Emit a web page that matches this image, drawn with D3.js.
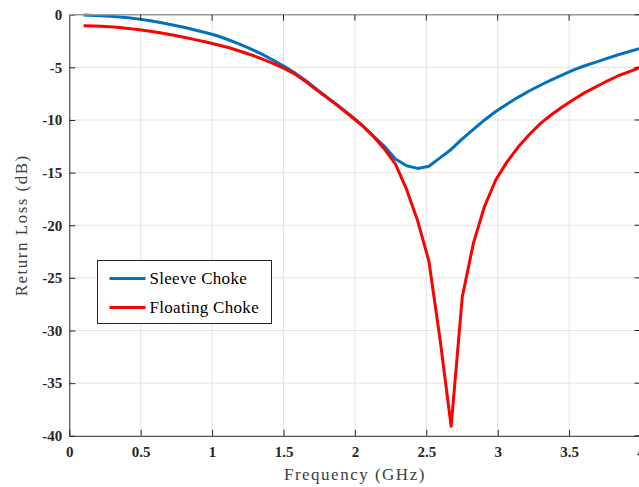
<!DOCTYPE html>
<html>
<head>
<meta charset="utf-8">
<script src="https://cdn.jsdelivr.net/npm/d3@7"></script>
<style>
  body { margin: 0; background: #fff; }
  svg { display: block; font-family: "Times New Roman", "Liberation Serif", serif; }
</style>
</head>
<body>
<div id="chart"></div>
<script>
// frequency samples (GHz)
var freq = [0.1, 0.178, 0.256, 0.334, 0.412, 0.49, 0.568, 0.646, 0.724, 0.802,
            0.88, 0.958, 1.036, 1.114, 1.192, 1.27, 1.348, 1.426, 1.504, 1.582,
            1.66, 1.738, 1.816, 1.894, 1.972, 2.05, 2.128, 2.206, 2.284, 2.362,
            2.44, 2.518, 2.596, 2.674, 2.752, 2.83, 2.908, 2.986, 3.064, 3.142,
            3.22, 3.298, 3.376, 3.454, 3.532, 3.61, 3.688, 3.766, 3.844, 3.922, 4.0];

var sleeve = [-0.03, -0.07, -0.12, -0.19, -0.29, -0.42, -0.58, -0.76, -0.97, -1.2,
              -1.45, -1.72, -2.0, -2.38, -2.8, -3.25, -3.75, -4.3, -4.9, -5.55,
              -6.3, -7.15, -7.95, -8.75, -9.6, -10.5, -11.5, -12.5, -13.7, -14.35,
              -14.6, -14.4, -13.6, -12.8, -11.8, -10.9, -10.0, -9.2, -8.5, -7.85,
              -7.25, -6.7, -6.2, -5.72, -5.25, -4.85, -4.5, -4.15, -3.8, -3.5, -3.2];

var floating = [-1.04, -1.08, -1.13, -1.2, -1.3, -1.43, -1.57, -1.74, -1.93, -2.14,
                -2.37, -2.6, -2.85, -3.12, -3.45, -3.8, -4.2, -4.62, -5.1, -5.65,
                -6.4, -7.2, -8.0, -8.8, -9.65, -10.5, -11.55, -12.75, -14.2, -16.6,
                -19.6, -23.4, -30.8, -39.1, -26.8, -21.7, -18.2, -15.7, -14.0, -12.6,
                -11.4, -10.35, -9.5, -8.75, -8.05, -7.4, -6.85, -6.3, -5.8, -5.4, -5.0];

var series = [
  {name: "Sleeve Choke", color: "#0072BD", values: sleeve},
  {name: "Floating Choke", color: "#FF0000", values: floating}
];

var xTicks = [0, 0.5, 1, 1.5, 2, 2.5, 3, 3.5, 4];
var yTicks = [0, -5, -10, -15, -20, -25, -30, -35, -40];

var W = 639, H = 487;
var margin = {top: 14.7, left: 69.3};
var plotW = 571.2, plotH = 421.1;

var svg = d3.select("#chart").append("svg")
    .attr("width", W)
    .attr("height", H);

var x = d3.scaleLinear().domain([0, 4]).range([margin.left, margin.left + plotW]);
var y = d3.scaleLinear().domain([0, -40]).range([margin.top, margin.top + plotH]);

// grid
var grid = svg.append("g").attr("class", "grid");
grid.selectAll("line.gx")
    .data(xTicks.slice(1, -1))
    .enter().append("line")
    .attr("x1", function(d) { return x(d); })
    .attr("x2", function(d) { return x(d); })
    .attr("y1", y(0))
    .attr("y2", y(-40))
    .attr("stroke", "#e3e3e3")
    .attr("stroke-width", 1);
grid.selectAll("line.gy")
    .data(yTicks.slice(1, -1))
    .enter().append("line")
    .attr("y1", function(d) { return y(d); })
    .attr("y2", function(d) { return y(d); })
    .attr("x1", x(0))
    .attr("x2", x(4))
    .attr("stroke", "#e3e3e3")
    .attr("stroke-width", 1);

// curves
svg.append("clipPath").attr("id", "clip")
  .append("rect")
    .attr("x", x(0)).attr("y", y(0) - 3)
    .attr("width", plotW).attr("height", plotH + 3);

var line = d3.line()
    .x(function(d, i) { return x(freq[i]); })
    .y(function(d) { return y(d); });

svg.append("g")
    .attr("clip-path", "url(#clip)")
  .selectAll("path")
    .data(series)
    .enter().append("path")
    .attr("d", function(d) { return line(d.values); })
    .attr("fill", "none")
    .attr("stroke", function(d) { return d.color; })
    .attr("stroke-width", 3)
    .attr("stroke-linejoin", "round");

// axes (MATLAB style: ticks pointing inward)
var tickLen = 6;
var xAxis = d3.axisBottom(x).tickValues(xTicks).tickSize(-tickLen).tickSizeOuter(0)
    .tickFormat(d3.format("~g"));
var yAxis = d3.axisLeft(y).tickValues(yTicks).tickSize(-tickLen).tickSizeOuter(0)
    .tickFormat(function(d) { return d === 0 ? "0" : String(d); });

var gx = svg.append("g")
    .attr("transform", "translate(0," + y(-40) + ")")
    .call(xAxis);
gx.select(".domain").attr("stroke", "#262626");
gx.selectAll(".tick line").attr("stroke", "#262626");
gx.selectAll(".tick text")
    .attr("y", 11)
    .attr("dy", "0.71em")
    .style("font-family", "'Times New Roman', 'Liberation Serif', serif")
    .style("font-size", "15px")
    .style("font-weight", "bold")
    .attr("fill", "#262626");

var gy = svg.append("g")
    .attr("transform", "translate(" + x(0) + ",0)")
    .call(yAxis);
gy.select(".domain").attr("stroke", "#262626");
gy.selectAll(".tick line").attr("stroke", "#262626");
gy.selectAll(".tick text")
    .attr("x", -7)
    .style("font-family", "'Times New Roman', 'Liberation Serif', serif")
    .style("font-size", "15px")
    .style("font-weight", "bold")
    .attr("fill", "#262626");

// top and right box edges with inward ticks
svg.append("line")
    .attr("x1", x(0)).attr("x2", x(4))
    .attr("y1", y(0)).attr("y2", y(0))
    .attr("stroke", "#9a9a9a").attr("stroke-width", 1.5);
svg.selectAll("line.topTick")
    .data(xTicks.slice(1))
    .enter().append("line")
    .attr("x1", function(d) { return x(d); })
    .attr("x2", function(d) { return x(d); })
    .attr("y1", y(0))
    .attr("y2", y(0) + tickLen)
    .attr("stroke", "#262626");
svg.selectAll("line.rightTick")
    .data(yTicks)
    .enter().append("line")
    .attr("x1", x(4) - tickLen)
    .attr("x2", x(4))
    .attr("y1", function(d) { return y(d); })
    .attr("y2", function(d) { return y(d); })
    .attr("stroke", "#262626");

// axis titles
svg.append("text")
    .attr("x", x(2))
    .attr("y", 480)
    .attr("text-anchor", "middle")
    .style("font-size", "17px")
    .style("letter-spacing", "1.5px")
    .attr("fill", "#404040")
    .text("Frequency (GHz)");

svg.append("text")
    .attr("transform", "translate(27," + y(-20) + ") rotate(-90)")
    .attr("text-anchor", "middle")
    .style("font-size", "17px")
    .style("letter-spacing", "1.5px")
    .attr("fill", "#404040")
    .text("Return Loss (dB)");

// legend
var legend = svg.append("g").attr("transform", "translate(97.5,260.5)");
legend.append("rect")
    .attr("width", 174)
    .attr("height", 63)
    .attr("fill", "#fff")
    .attr("stroke", "#262626")
    .attr("stroke-width", 1);
var item = legend.selectAll("g.item")
    .data(series)
    .enter().append("g")
    .attr("transform", function(d, i) { return "translate(0," + (18 + i * 29) + ")"; });
item.append("line")
    .attr("x1", 12).attr("x2", 48)
    .attr("stroke", function(d) { return d.color; })
    .attr("stroke-width", 3);
item.append("text")
    .attr("x", 52)
    .attr("dy", "0.35em")
    .style("font-size", "17px")
    .style("letter-spacing", "0.3px")
    .attr("fill", "#000")
    .text(function(d) { return d.name; });
</script>
</body>
</html>
